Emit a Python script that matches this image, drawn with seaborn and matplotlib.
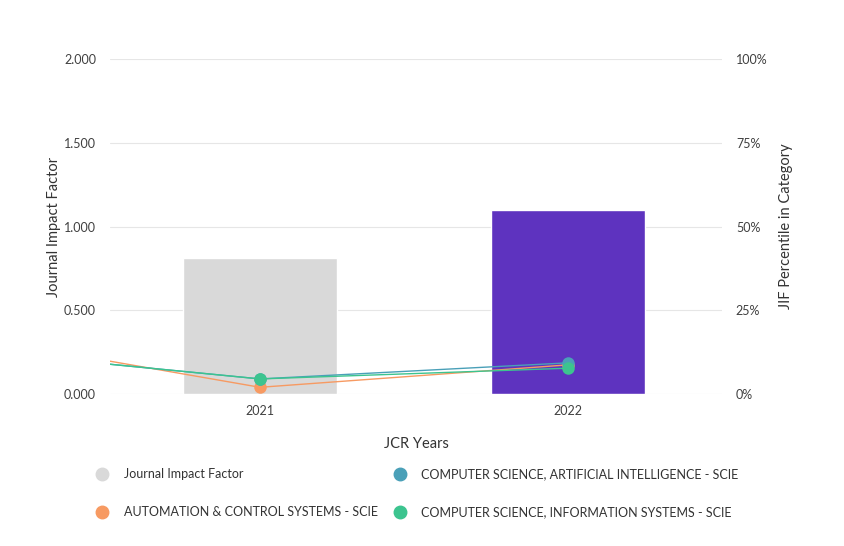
import matplotlib
matplotlib.use("Agg")
import matplotlib.pyplot as plt
from matplotlib.lines import Line2D
import seaborn as sns
import pandas as pd

# ---- data ----
years = [2021, 2022]
jif = [0.81, 1.10]
bar_colors = ["#d9d9d9", "#5e33bf"]

pct_years = [2020, 2021, 2022]
auto_pct = [18.0, 2.0, 8.7]
ai_pct = [13.5, 4.5, 9.3]
is_pct = [13.5, 4.5, 7.7]

cat_names = ["AUTOMATION & CONTROL SYSTEMS - SCIE",
             "COMPUTER SCIENCE, ARTIFICIAL INTELLIGENCE - SCIE",
             "COMPUTER SCIENCE, INFORMATION SYSTEMS - SCIE"]
cat_colors = ["#f79a62", "#4aa0b8", "#3cc48f"]
y_ticks = [0, 0.5, 1.0, 1.5, 2.0]
y_ticklabels = ["0.000", "0.500", "1.000", "1.500", "2.000"]
pct_ticks = [0, 25, 50, 75, 100]
pct_ticklabels = ["0%", "25%", "50%", "75%", "100%"]

sns.set_theme(style="white")
plt.rcParams["font.family"] = ["Lato", "DejaVu Sans"]
txt = "#404040"

fig = plt.figure(figsize=(8.45, 5.46), dpi=100)
ax = fig.add_axes([110/845, 1-394/546, (722-110)/845, (394-59)/546])

bar_df = pd.DataFrame({"year": years, "jif": jif})
sns.barplot(data=bar_df, x="year", y="jif", hue="year",
            palette=dict(zip(years, bar_colors)), native_scale=True,
            width=0.5, legend=False, ax=ax, saturation=1, zorder=2)

ax.set_xlim(2020.513, 2022.5)
ax.set_ylim(0, 2.0)
ax.set_yticks(y_ticks)
ax.set_yticklabels(y_ticklabels)
ax.set_xticks(years)
ax.set_xticklabels([str(y) for y in years])
ax.grid(axis="y", color="#e6e6e6", linewidth=0.8, zorder=0)
ax.set_axisbelow(True)
for s in ax.spines.values():
    s.set_visible(False)
ax.tick_params(axis="both", length=0, labelsize=9, labelcolor=txt, pad=8)
ax.tick_params(axis="y", pad=10)
ax.set_ylabel("Journal Impact Factor", fontsize=10.5, color="#333333", labelpad=2)
ax.set_xlabel("JCR Years", fontsize=10.5, color="#333333", labelpad=14)

ax2 = ax.twinx()
rows = []
for name, vals in zip(cat_names, [auto_pct, ai_pct, is_pct]):
    for y, v in zip(pct_years, vals):
        rows.append({"year": y, "pct": v, "cat": name})
line_df = pd.DataFrame(rows)
sns.lineplot(data=line_df, x="year", y="pct", hue="cat", hue_order=cat_names,
             palette=dict(zip(cat_names, cat_colors)), marker="o", markersize=9,
             markeredgewidth=0, linewidth=1.0, legend=False, ax=ax2)
ax2.set_xlim(2020.513, 2022.5)
ax2.set_ylim(0, 100)
ax2.set_yticks(pct_ticks)
ax2.set_yticklabels(pct_ticklabels)
for s in ax2.spines.values():
    s.set_visible(False)
ax2.tick_params(axis="y", length=0, labelsize=9, labelcolor=txt, pad=10)
ax2.set_ylabel("JIF Percentile in Category", fontsize=10.5, color="#333333", labelpad=8)
ax2.grid(False)

handles = [Line2D([], [], marker="o", linestyle="", markersize=9, color=c)
           for c in ["#d9d9d9", cat_colors[0], cat_colors[1], cat_colors[2]]]
labels = ["Journal Impact Factor", cat_names[0], cat_names[1], cat_names[2]]
leg = fig.legend(handles, labels, ncol=2, loc="upper left",
                 bbox_to_anchor=(85/845, 1-457/546), frameon=False,
                 fontsize=9, labelcolor="#333333", handletextpad=1.2,
                 columnspacing=1.25, labelspacing=2.1, handlelength=1.0)

fig.savefig("out.png", dpi=100)
